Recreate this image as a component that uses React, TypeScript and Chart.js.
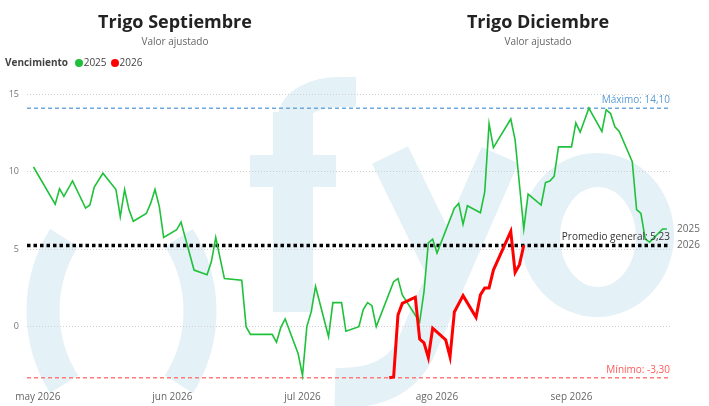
import { useEffect, useRef } from "react";
import { Chart, registerables } from "chart.js";

Chart.register(...registerables);

// days counted from 1 may 2026
const monthStarts = [0, 31, 61, 92, 123];
const monthLabels = ["may 2026", "jun 2026", "jul 2026", "ago 2026", "sep 2026"];
const yTicks = [0, 5, 10, 15];

const greenDays = [
  -1, 4, 5, 6, 8, 11, 12, 13, 15, 18, 19, 20, 21, 22, 25, 26, 27, 28, 29, 32, 33, 36, 39, 40, 41, 43,
  47, 48, 49, 54, 55, 56, 57, 60, 61, 62, 63, 64, 67, 68, 70, 71, 74, 75, 76, 77, 78, 82, 83, 84, 88,
  89, 90, 91, 92, 96, 97, 98, 99, 102, 103, 104, 105, 109, 110, 112, 113, 116, 117, 118, 119, 120,
  123, 124, 125, 127, 130, 131, 132, 133, 134, 137, 138, 139, 140, 141, 144, 145,
];
const greenValues = [
  10.3, 7.9, 8.9, 8.4, 9.4, 7.65, 7.85, 9.0, 9.9, 8.85, 7.1, 8.85, 7.55, 6.8, 7.3, 7.95, 8.85, 7.75,
  5.75, 6.25, 6.75, 3.65, 3.35, 4.2, 5.75, 3.1, 3.0, 0.0, -0.5, -0.5, -1.0, -0.05, 0.5, -1.75, -3.15,
  0.0, 0.95, 2.6, -0.65, 1.55, 1.55, -0.3, 0.0, 1.1, 1.55, 1.35, 0.0, 2.9, 3.1, 2.05, 0.3, 2.25, 5.4,
  5.65, 4.75, 7.65, 7.95, 6.6, 7.8, 7.35, 8.7, 13.1, 11.55, 13.4, 12.05, 6.3, 8.55, 7.85, 9.3, 9.4,
  9.7, 11.6, 11.6, 13.15, 12.55, 14.1, 12.6, 14.0, 13.75, 12.9, 12.6, 10.65, 7.55, 7.3, 5.65, 5.45,
  6.3, 6.3,
];

const redDays = [81, 82, 83, 84, 87, 88, 89, 90, 91, 94, 95, 96, 98, 101, 102, 103, 104, 105, 109, 110, 111, 112];
const redValues = [
  -3.3, -3.25, 0.75, 1.5, 1.9, -0.8, -1.05, -2.0, -0.1, -0.85, -1.95, 0.95, 2.0, 0.6, 2.05, 2.5, 2.5,
  3.65, 6.15, 3.5, 4.0, 5.25,
];

const seriesNames = ["2025", "2026"];
const seriesColors = ["#1fc13a", "#ff0000"];

const promedio = 5.23;
const maximo = 14.1;
const minimo = -3.3;

const xMin = -2.5;
const xMax = 145.7;

const fmt = (v: number) => v.toFixed(2).replace(".", ",");
const font = "'Open Sans', 'Noto Sans', sans-serif";

const watermark = {
  id: "watermark",
  beforeDraw(chart: Chart) {
    const ctx = chart.ctx;
    ctx.save();
    ctx.fillStyle = "#e4f1f6";
    ctx.strokeStyle = "#e4f1f6";
    ctx.lineCap = "butt";
    // ( )
    ctx.lineWidth = 33;
    ctx.beginPath();
    ctx.arc(181, 311, 138, Math.PI - 0.56, Math.PI + 0.56);
    ctx.stroke();
    ctx.beginPath();
    ctx.arc(62, 311, 138, -0.56, 0.56);
    ctx.stroke();
    // f
    ctx.fillRect(273, 112, 40, 200);
    ctx.fillRect(250, 155, 86, 32);
    ctx.lineWidth = 30;
    ctx.beginPath();
    ctx.ellipse(340, 118, 47, 26, 0, Math.PI, Math.PI * 1.5);
    ctx.lineTo(356, 92);
    ctx.stroke();
    // y
    ctx.lineWidth = 40;
    ctx.beginPath();
    ctx.moveTo(390, 155);
    ctx.lineTo(452, 282);
    ctx.stroke();
    ctx.lineWidth = 40;
    ctx.beginPath();
    ctx.moveTo(500, 155);
    ctx.lineTo(415, 350);
    ctx.quadraticCurveTo(395, 390, 335, 388);
    ctx.stroke();
    // o
    ctx.beginPath();
    ctx.ellipse(597, 235, 77, 82, 0, 0, Math.PI * 2);
    ctx.moveTo(636, 237);
    ctx.ellipse(598, 237, 38, 50, 0, 0, Math.PI * 2);
    ctx.fill("evenodd");
    ctx.restore();
  },
};

const labels = {
  id: "refLabels",
  afterDatasetsDraw(chart: Chart) {
    const { ctx, chartArea } = chart;
    const y = chart.scales.y;
    ctx.save();
    ctx.font = `10px ${font}`;
    ctx.textBaseline = "middle";
    ctx.textAlign = "right";
    ctx.fillStyle = "#5b9bd5";
    ctx.fillText(`Máximo: ${fmt(maximo)}`, chartArea.right, y.getPixelForValue(maximo) - 8);
    ctx.fillStyle = "#ff5a5a";
    ctx.fillText(`Mínimo: ${fmt(minimo)}`, chartArea.right, y.getPixelForValue(minimo) - 8);
    ctx.fillStyle = "#333";
    ctx.fillText(`Promedio general: ${fmt(promedio)}`, chartArea.right, y.getPixelForValue(promedio) - 8);
    ctx.textAlign = "left";
    ctx.fillStyle = "#666";
    ctx.fillText(seriesNames[0], chartArea.right + 7, y.getPixelForValue(greenValues[greenValues.length - 1]));
    ctx.fillText(seriesNames[1], chartArea.right + 7, y.getPixelForValue(redValues[redValues.length - 1]));
    ctx.restore();
  },
};

const refLine = (value: number, color: string, width: number, dash: number[]) => ({
  data: [
    { x: xMin, y: value },
    { x: xMax, y: value },
  ],
  borderColor: color,
  borderWidth: width,
  borderDash: dash,
  pointRadius: 0,
  order: 3,
});

export default function App() {
  const canvasRef = useRef<HTMLCanvasElement | null>(null);

  useEffect(() => {
    document.body.style.margin = "0";
    if (!canvasRef.current) return;

    const chart = new Chart(canvasRef.current, {
      type: "line",
      data: {
        datasets: [
          {
            label: seriesNames[1],
            data: redDays.map((d, i) => ({ x: d, y: redValues[i] })),
            borderColor: seriesColors[1],
            borderWidth: 3,
            pointRadius: 0,
            order: 1,
          },
          {
            label: seriesNames[0],
            data: greenDays.map((d, i) => ({ x: d, y: greenValues[i] })),
            borderColor: seriesColors[0],
            borderWidth: 1.6,
            pointRadius: 0,
            order: 2,
          },
          refLine(promedio, "#000000", 3.5, [3.5, 3]),
          refLine(maximo, "#6fa8dc", 1.5, [4, 3]),
          refLine(minimo, "#ff7b7b", 1.5, [4, 3]),
        ] as any,
      },
      options: {
        animation: false,
        responsive: true,
        maintainAspectRatio: false,
        layout: { padding: { top: 90, right: 39, left: 0, bottom: 0 } },
        plugins: { legend: { display: false }, tooltip: { enabled: false } },
        scales: {
          x: {
            type: "linear",
            min: xMin,
            max: xMax,
            grid: { display: false, drawTicks: false },
            border: { display: false },
            afterBuildTicks: (axis: any) => {
              axis.ticks = monthStarts.map((v) => ({ value: v }));
            },
            afterFit: (axis: any) => {
              axis.height = 20;
            },
            ticks: {
              padding: 5,
              maxRotation: 0,
              autoSkip: false,
              color: "#666",
              font: { size: 10, family: font },
              callback: (_v: any, i: number) => monthLabels[i],
            },
          },
          y: {
            min: -3.83,
            max: 15.27,
            grid: { color: "#cfcfcf", lineWidth: 1, drawTicks: false },
            border: { display: false, dash: [1, 2] },
            afterBuildTicks: (axis: any) => {
              axis.ticks = yTicks.map((v) => ({ value: v }));
            },
            afterFit: (axis: any) => {
              axis.width = 27;
            },
            ticks: {
              padding: 8,
              color: "#777",
              font: { size: 9, family: font },
            },
          },
        },
      },
      plugins: [watermark, labels],
    });

    return () => chart.destroy();
  }, []);

  const title: React.CSSProperties = {
    position: "absolute",
    width: 300,
    textAlign: "center",
    fontWeight: 700,
    fontSize: 18,
    lineHeight: "22px",
    color: "#222",
    top: 10,
  };
  const sub: React.CSSProperties = {
    position: "absolute",
    width: 300,
    textAlign: "center",
    fontSize: 10,
    lineHeight: "12px",
    color: "#666",
    top: 35,
  };
  const dot = (c: string): React.CSSProperties => ({
    display: "inline-block",
    width: 8,
    height: 8,
    borderRadius: 4,
    background: c,
    margin: "0 1px 0 4px",
    verticalAlign: "-1px",
  });

  return (
    <div style={{ position: "relative", width: 709, height: 406, fontFamily: font, overflow: "hidden" }}>
      <canvas ref={canvasRef}></canvas>
      <div style={{ ...title, left: 25 }}>Trigo Septiembre</div>
      <div style={{ ...sub, left: 25 }}>Valor ajustado</div>
      <div style={{ ...title, left: 388 }}>Trigo Diciembre</div>
      <div style={{ ...sub, left: 388 }}>Valor ajustado</div>
      <div style={{ position: "absolute", left: 5, top: 56, fontSize: 10, lineHeight: "12px", color: "#444" }}>
        <b>Vencimiento</b> <span style={dot(seriesColors[0])}></span>
        {seriesNames[0]}
        <span style={dot(seriesColors[1])}></span>
        {seriesNames[1]}
      </div>
    </div>
  );
}
